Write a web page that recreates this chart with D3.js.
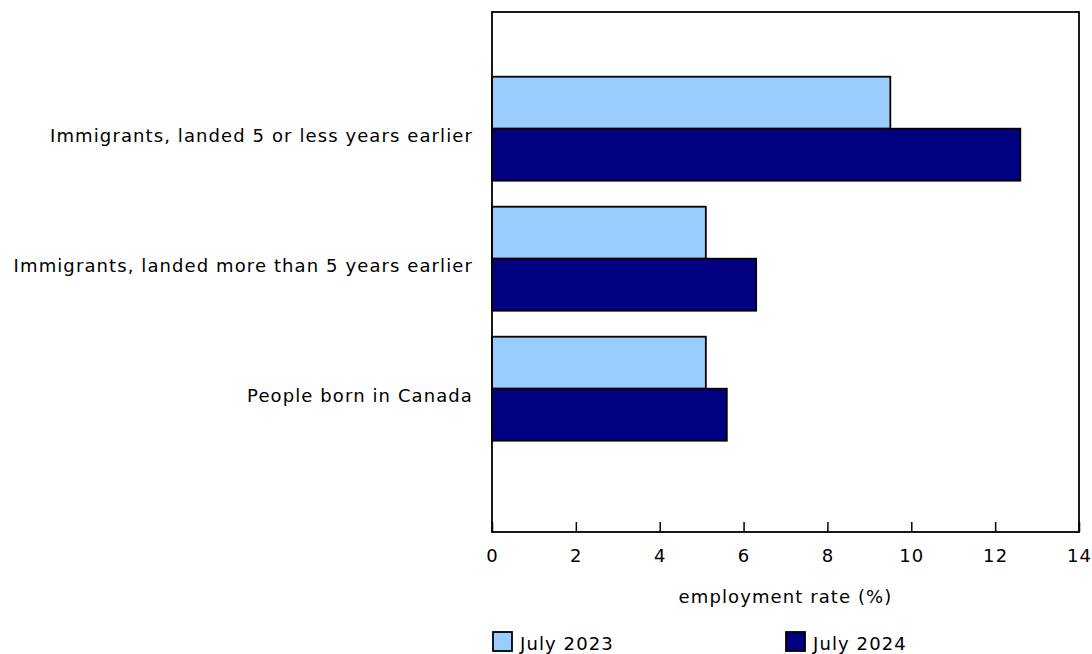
<!DOCTYPE html>
<html><head><meta charset="utf-8">
<script src="https://cdn.jsdelivr.net/npm/d3@7"></script>
<style>body{margin:0;background:#fff;} text{font-family:"DejaVu Sans",Verdana,sans-serif;fill:#000;letter-spacing:1.1px;}</style>
</head><body>
<svg id="c" width="1092" height="654"></svg>
<script>
const categories = ["Immigrants, landed 5 or less years earlier","Immigrants, landed more than 5 years earlier","People born in Canada"];
const seriesNames = ["July 2023","July 2024"];
const july2023 = [9.5, 5.1, 5.1];
const july2024 = [12.6, 6.3, 5.6];
const xTicks = [0,2,4,6,8,10,12,14];
const colors = ["#99CCFF","#000080"];
const xTitle = "employment rate (%)";

const svg = d3.select("#c");
const L=492, R=1079, T=12, B=532;
const FS="18px";
const x = d3.scaleLinear().domain([0,14]).range([L,R]);
const y = d3.scaleBand().domain(categories).range([63.7,453.7]).paddingInner(0.2).paddingOuter(0.1);
const sub = d3.scaleBand().domain(seriesNames).range([0,y.bandwidth()]);
const series=[july2023,july2024];

series.forEach((vals,si)=>{
  svg.append("g").selectAll("rect").data(categories).join("rect")
    .attr("x",x(0)).attr("y",(d)=>y(d)+sub(seriesNames[si]))
    .attr("width",(d,i)=>x(vals[i])-x(0)).attr("height",sub.bandwidth())
    .attr("fill",colors[si]).attr("stroke","#000").attr("stroke-width",1.8);
});

svg.append("rect").attr("x",L).attr("y",T).attr("width",R-L).attr("height",B-T)
  .attr("fill","none").attr("stroke","#000").attr("stroke-width",1.8);

const ax = svg.append("g").attr("transform",`translate(0,${B})`)
  .call(d3.axisBottom(x).tickValues(xTicks).tickSize(-10).tickPadding(0).tickFormat(d3.format("d")));
ax.select(".domain").remove();
ax.selectAll(".tick line").attr("stroke","#000").attr("stroke-width",1.5);
ax.selectAll(".tick text").attr("y",30).attr("dy",0).style("font-size",FS)
  .style("font-family","'DejaVu Sans',Verdana,sans-serif").attr("fill","#000");

svg.append("text").attr("x",(L+R)/2).attr("y",603).attr("text-anchor","middle").style("font-size",FS).text(xTitle);

svg.append("g").selectAll("text").data(categories).join("text")
  .attr("x",473).attr("y",d=>y(d)+y.bandwidth()/2+13).attr("text-anchor","end")
  .style("font-size",FS).text(d=>d);

const legX=[492,785];
seriesNames.forEach((n,i)=>{
  svg.append("rect").attr("x",legX[i]+1).attr("y",632).attr("width",19).attr("height",19)
    .attr("fill",colors[i]).attr("stroke","#000").attr("stroke-width",1.8);
  svg.append("text").attr("x",legX[i]+28).attr("y",650).style("font-size",FS).text(n);
});
</script>
</body></html>
